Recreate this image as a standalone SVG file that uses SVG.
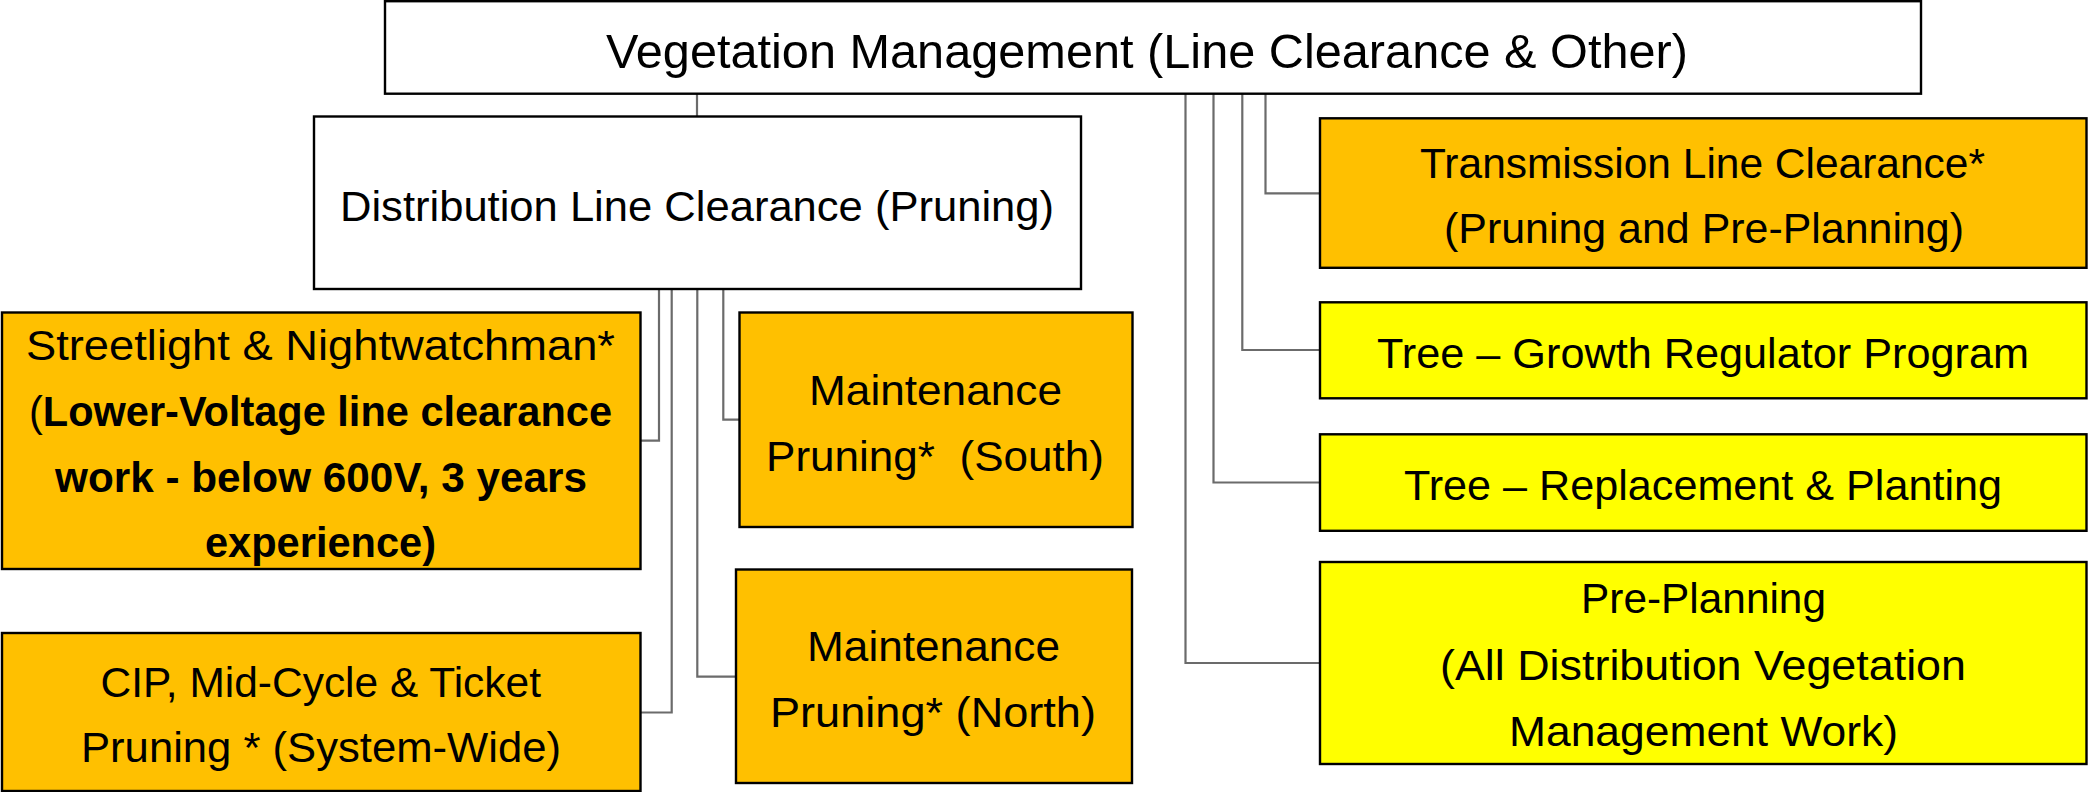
<svg xmlns="http://www.w3.org/2000/svg" width="2088" height="792" viewBox="0 0 2088 792">
<style>
.box{stroke:#000;stroke-width:2.4}
.w{fill:#fff}
.o{fill:#FFC000}
.y{fill:#FFFF00}
.t{font-family:"Liberation Sans",Arial,sans-serif;font-size:42px;fill:#000}
.tt{font-family:"Liberation Sans",Arial,sans-serif;font-size:48px;fill:#000}
.b{font-weight:bold}
.con{fill:none;stroke:#6b6b6b;stroke-width:2.2}
</style>
<rect x="0" y="0" width="2088" height="792" fill="#fff"/>
<g id="connectors">
<path class="con" d="M697 89V116"/>
<path class="con" d="M1265.5 89V193.3H1320"/>
<path class="con" d="M1242.3 89V350H1320"/>
<path class="con" d="M1213.5 89V482.5H1320"/>
<path class="con" d="M1185.5 89V663H1320"/>
<path class="con" d="M659 286V440.7H641"/>
<path class="con" d="M671.7 286V712.5H641"/>
<path class="con" d="M697.3 286V676.7H736"/>
<path class="con" d="M723.3 286V419.7H739"/>
</g>
<g id="n-root">
<rect class="box w" x="385" y="1.2" width="1536" height="92.5"/>
<text class="tt" x="606" y="68" textLength="1082" lengthAdjust="spacingAndGlyphs">Vegetation Management (Line Clearance &amp; Other)</text>
</g>
<g id="n-dist">
<rect class="box w" x="314" y="116.5" width="767" height="172.5"/>
<text class="t" x="340" y="221" textLength="714" lengthAdjust="spacingAndGlyphs">Distribution Line Clearance (Pruning)</text>
</g>
<g id="n-street">
<rect class="box o" x="2" y="312.5" width="638.5" height="256.5"/>
<text class="t" x="26" y="360" textLength="589" lengthAdjust="spacingAndGlyphs">Streetlight &amp; Nightwatchman*</text>
<text class="t" x="29" y="426" textLength="583" lengthAdjust="spacingAndGlyphs">(<tspan class="b">Lower-Voltage line clearance</tspan></text>
<text class="t b" x="55" y="492" textLength="532" lengthAdjust="spacingAndGlyphs">work - below 600V, 3 years</text>
<text class="t b" x="205" y="557" textLength="231" lengthAdjust="spacingAndGlyphs">experience)</text>
</g>
<g id="n-cip">
<rect class="box o" x="2" y="633" width="638.5" height="158"/>
<text class="t" x="100.5" y="697" textLength="440.5" lengthAdjust="spacingAndGlyphs">CIP, Mid-Cycle &amp; Ticket</text>
<text class="t" x="81" y="762" textLength="480" lengthAdjust="spacingAndGlyphs">Pruning * (System-Wide)</text>
</g>
<g id="n-south">
<rect class="box o" x="739.5" y="312.5" width="393" height="214.5"/>
<text class="t" x="809" y="405" textLength="253" lengthAdjust="spacingAndGlyphs">Maintenance</text>
<text class="t" x="766" y="471" textLength="338" lengthAdjust="spacingAndGlyphs" style="white-space:pre">Pruning*  (South)</text>
</g>
<g id="n-north">
<rect class="box o" x="736" y="569.5" width="396" height="213.5"/>
<text class="t" x="807" y="661" textLength="253" lengthAdjust="spacingAndGlyphs">Maintenance</text>
<text class="t" x="770" y="727" textLength="326" lengthAdjust="spacingAndGlyphs">Pruning* (North)</text>
</g>
<g id="n-trans">
<rect class="box o" x="1320" y="118.3" width="766.5" height="149.5"/>
<text class="t" x="1420" y="178" textLength="565" lengthAdjust="spacingAndGlyphs">Transmission Line Clearance*</text>
<text class="t" x="1444" y="243" textLength="520" lengthAdjust="spacingAndGlyphs">(Pruning and Pre-Planning)</text>
</g>
<g id="n-growth">
<rect class="box y" x="1320" y="302.3" width="766.5" height="96"/>
<text class="t" x="1377" y="368" textLength="652" lengthAdjust="spacingAndGlyphs">Tree – Growth Regulator Program</text>
</g>
<g id="n-replace">
<rect class="box y" x="1320" y="434.3" width="766.5" height="96.5"/>
<text class="t" x="1404" y="500" textLength="598" lengthAdjust="spacingAndGlyphs">Tree – Replacement &amp; Planting</text>
</g>
<g id="n-preplan">
<rect class="box y" x="1320" y="562" width="766.5" height="202"/>
<text class="t" x="1581" y="613" textLength="245" lengthAdjust="spacingAndGlyphs">Pre-Planning</text>
<text class="t" x="1440" y="680" textLength="526" lengthAdjust="spacingAndGlyphs">(All Distribution Vegetation</text>
<text class="t" x="1509" y="746" textLength="389" lengthAdjust="spacingAndGlyphs">Management Work)</text>
</g>
</svg>
